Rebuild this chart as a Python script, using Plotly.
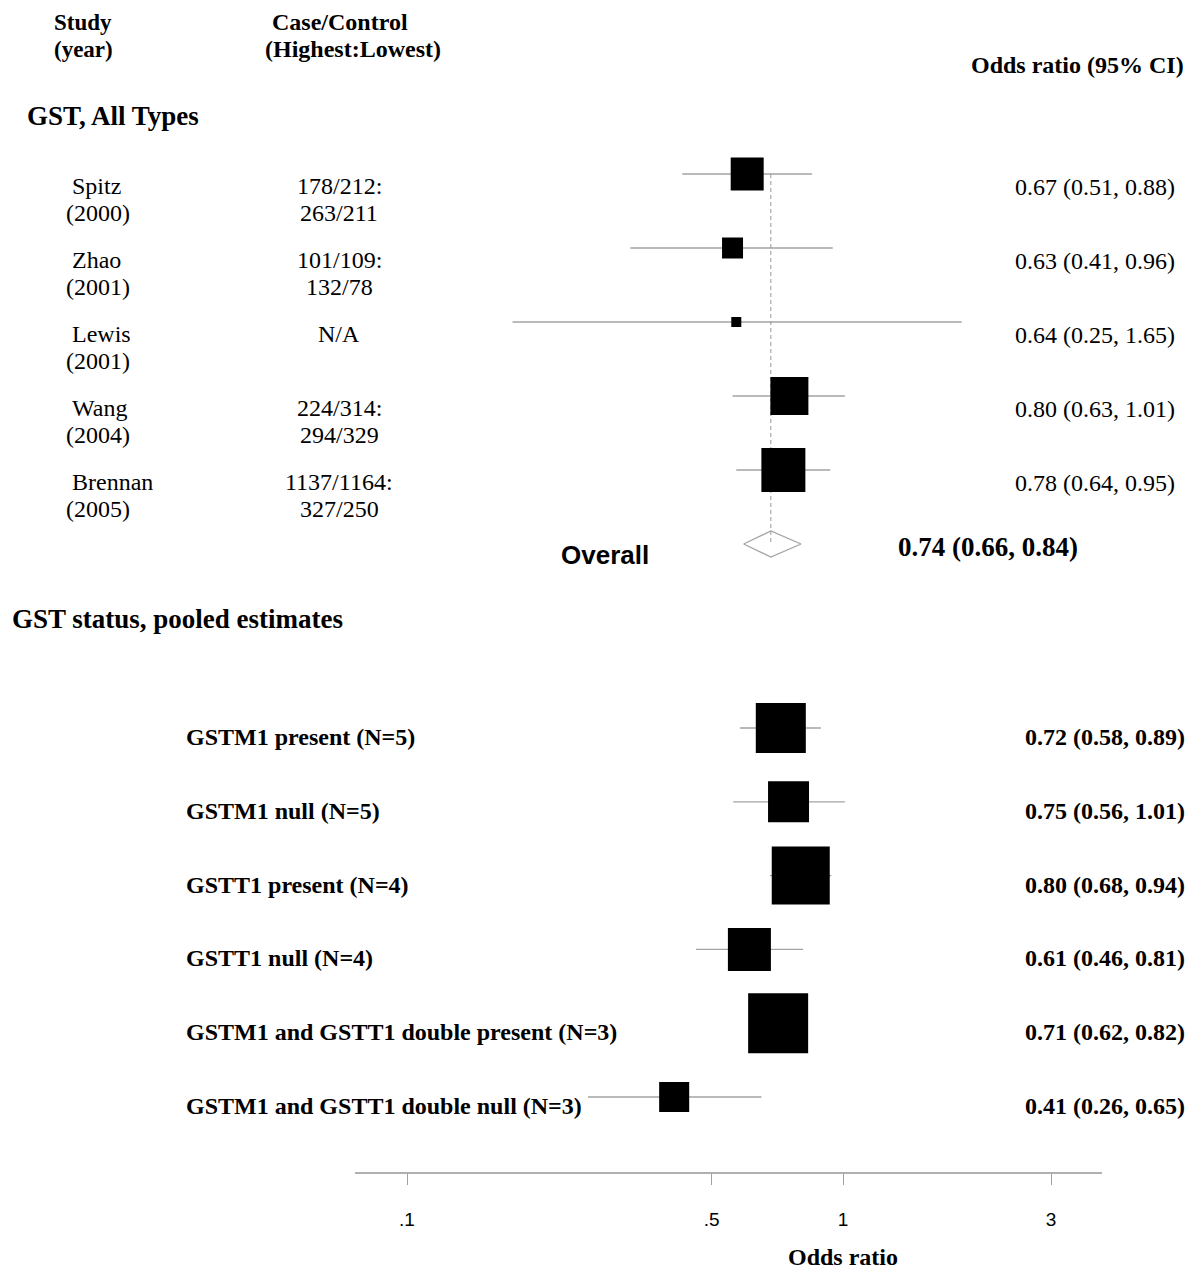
import numpy as np
import plotly.graph_objects as go

# ---------------- data ----------------
studies = ["Spitz", "Zhao", "Lewis", "Wang", "Brennan"]
years = ["(2000)", "(2001)", "(2001)", "(2004)", "(2005)"]
case_line1 = ["178/212:", "101/109:", "N/A", "224/314:", "1137/1164:"]
case_line2 = ["263/211", "132/78", "", "294/329", "327/250"]
study_or = [0.67, 0.63, 0.64, 0.80, 0.78]
study_lo = [0.51, 0.41, 0.25, 0.63, 0.64]
study_hi = [0.88, 0.96, 1.65, 1.01, 0.95]
study_weight = [21.7, 8.8, 2.0, 28.8, 38.6]

overall_or = 0.74
overall_lo = 0.66
overall_hi = 0.84

pooled_labels = ["GSTM1 present (N=5)", "GSTM1 null (N=5)", "GSTT1 present (N=4)",
                 "GSTT1 null (N=4)", "GSTM1 and GSTT1 double present (N=3)",
                 "GSTM1 and GSTT1 double null (N=3)"]
pooled_or = [0.72, 0.75, 0.80, 0.61, 0.71, 0.41]
pooled_lo = [0.58, 0.56, 0.68, 0.46, 0.62, 0.26]
pooled_hi = [0.89, 1.01, 0.94, 0.81, 0.82, 0.65]
pooled_weight = [49.9, 33.5, 67.1, 36.9, 71.8, 18.0]

tick_vals = [0.1, 0.5, 1, 3]
tick_text = [".1", ".5", "1", "3"]

# ---------------- layout geometry ----------------
W, H = 1201, 1273
SERIF = "Liberation Serif"
SANS = "Liberation Sans"
GRAY = "#a3a3a3"

# upper panel (individual studies): px per decade and position of OR=1
UP_DEC, UP_ONE = 548.0, 842.5
ROW0_UP, STEP_UP = 174.0, 74.0
# lower panel (pooled): px per decade, position of OR=1, axis extent
LO_DEC, LO_ONE = 436.0, 843.0
AX_L, AX_R, AX_Y = 355.0, 1102.0, 1172.0
ROW0_LO, STEP_LO = 728.0, 73.8

def fmt(o, l, h):
    return f"{o:.2f} ({l:.2f}, {h:.2f})"

def box(w):
    return 7.08 * np.sqrt(w)

up_rows = list(range(1, len(studies) + 1))
overall_row = len(studies) + 1
lo_rows = list(range(1, len(pooled_labels) + 1))

fig = go.Figure()

# ---- upper panel traces ----
cx, cy = [], []
for r, l, h in zip(up_rows, study_lo, study_hi):
    cx += [l, h, None]
    cy += [r, r, None]
fig.add_trace(go.Scatter(x=cx, y=cy, mode="lines", line=dict(color=GRAY, width=1.3),
                         xaxis="x", yaxis="y", hoverinfo="skip"))
# dashed overall line
fig.add_trace(go.Scatter(x=[overall_or, overall_or], y=[up_rows[0], overall_row],
                         mode="lines", line=dict(color="#999999", width=1, dash="4px,3px"),
                         xaxis="x", yaxis="y", hoverinfo="skip"))
fig.add_trace(go.Scatter(x=study_or, y=up_rows, mode="markers",
                         marker=dict(symbol="square", color="black", opacity=1,
                                     size=[box(w) for w in study_weight], line=dict(width=0)),
                         xaxis="x", yaxis="y", hoverinfo="skip"))
# overall diamond
hd = 13.0 / STEP_UP
fig.add_trace(go.Scatter(x=[overall_lo, overall_or, overall_hi, overall_or, overall_lo],
                         y=[overall_row, overall_row - hd, overall_row, overall_row + hd, overall_row],
                         mode="lines", line=dict(color=GRAY, width=1.2),
                         xaxis="x", yaxis="y", hoverinfo="skip"))

# ---- lower panel traces ----
cx, cy = [], []
for r, l, h in zip(lo_rows, pooled_lo, pooled_hi):
    cx += [l, h, None]
    cy += [r, r, None]
fig.add_trace(go.Scatter(x=cx, y=cy, mode="lines", line=dict(color=GRAY, width=1.3),
                         xaxis="x2", yaxis="y2", hoverinfo="skip"))
fig.add_trace(go.Scatter(x=pooled_or, y=lo_rows, mode="markers",
                         marker=dict(symbol="square", color="black", opacity=1,
                                     size=[box(w) for w in pooled_weight], line=dict(width=0)),
                         xaxis="x2", yaxis="y2", hoverinfo="skip"))

# ---- axes ----
up_range = [-UP_ONE / UP_DEC, (W - UP_ONE) / UP_DEC]
lo_range = [(AX_L - LO_ONE) / LO_DEC, (AX_R - LO_ONE) / LO_DEC]
y_up_range = [1 + (H - ROW0_UP) / STEP_UP, 1 - ROW0_UP / STEP_UP]
y_lo_range = [1 + (AX_Y - ROW0_LO) / STEP_LO, 1 - ROW0_LO / STEP_LO]

fig.update_layout(
    width=W, height=H, margin=dict(l=0, r=0, t=0, b=0),
    paper_bgcolor="white", plot_bgcolor="rgba(0,0,0,0)", showlegend=False,
    xaxis=dict(type="log", domain=[0, 1], range=up_range, visible=False, anchor="y"),
    yaxis=dict(domain=[0, 1], range=y_up_range, visible=False, anchor="x"),
    xaxis2=dict(type="log", domain=[AX_L / W, AX_R / W], range=lo_range, anchor="y2",
                showline=True, linecolor="#b0b0b0", linewidth=1.6, showgrid=False,
                zeroline=False, ticks="outside", ticklen=11, tickwidth=1, tickcolor="#a0a0a0",
                tickvals=tick_vals, ticktext=tick_text, ticklabelstandoff=18,
                tickfont=dict(family=SANS, size=19, color="black")),
    yaxis2=dict(domain=[1 - AX_Y / H, 1], range=y_lo_range, visible=False, anchor="x2"),
)

# vertical reference line at OR = 1
fig.add_shape(type="line", xref="x", yref="paper", x0=np.log10(1), x1=np.log10(1),
              y0=1 - 27 / H, y1=1 - 1205 / H, line=dict(color="#8c8c8c", width=1))

ann = []
def text(x, y, s, size, bold=False, family=SERIF, xanchor="left", yref="paper", yshift=0):
    ann.append(dict(x=x / W, xref="paper", y=y, yref=yref, yshift=yshift,
                    text=f"<b>{s}</b>" if bold else s, showarrow=False,
                    xanchor=xanchor, yanchor="middle",
                    font=dict(family=family, size=size, color="black")))

# headers
text(52, 1 - 22 / H, "Study", 23, bold=True)
text(52, 1 - 49 / H, "(year)", 23, bold=True)
text(340, 1 - 22 / H, "Case/Control", 24, bold=True, xanchor="center")
text(353, 1 - 49 / H, "(Highest:Lowest)", 24, bold=True, xanchor="center")
text(1186, 1 - 65 / H, "Odds ratio (95% CI)", 24, bold=True, xanchor="right")
text(25, 1 - 116 / H, "GST, All Types", 27, bold=True)
text(10, 1 - 619 / H, "GST status, pooled estimates", 27, bold=True)

# study rows
for i, r in enumerate(up_rows):
    text(70, r, studies[i], 24, yref="y", yshift=-12)
    text(64, r, years[i], 24, yref="y", yshift=-39)
    text(339, r, case_line1[i], 24, xanchor="center", yref="y", yshift=-12)
    if case_line2[i]:
        text(339, r, case_line2[i], 24, xanchor="center", yref="y", yshift=-39)
    text(1177, r, fmt(study_or[i], study_lo[i], study_hi[i]), 24, xanchor="right",
         yref="y", yshift=-13)

text(605, overall_row, "Overall", 26, bold=True, family=SANS, xanchor="center",
     yref="y", yshift=-11)
text(896, overall_row, fmt(overall_or, overall_lo, overall_hi), 27, bold=True,
     yref="y", yshift=-3)

# pooled rows
for i, r in enumerate(lo_rows):
    text(184, r, pooled_labels[i], 24, bold=True, yref="y2", yshift=-9)
    text(1187, r, fmt(pooled_or[i], pooled_lo[i], pooled_hi[i]), 24, bold=True,
         xanchor="right", yref="y2", yshift=-9)

# axis title
text(843, 1 - 1257 / H, "Odds ratio", 24, bold=True, xanchor="center")

fig.update_layout(annotations=ann)
fig.write_html("out.html", config={"displayModeBar": False},
               post_script="document.body.style.margin='0px';document.body.style.overflow='hidden';")
